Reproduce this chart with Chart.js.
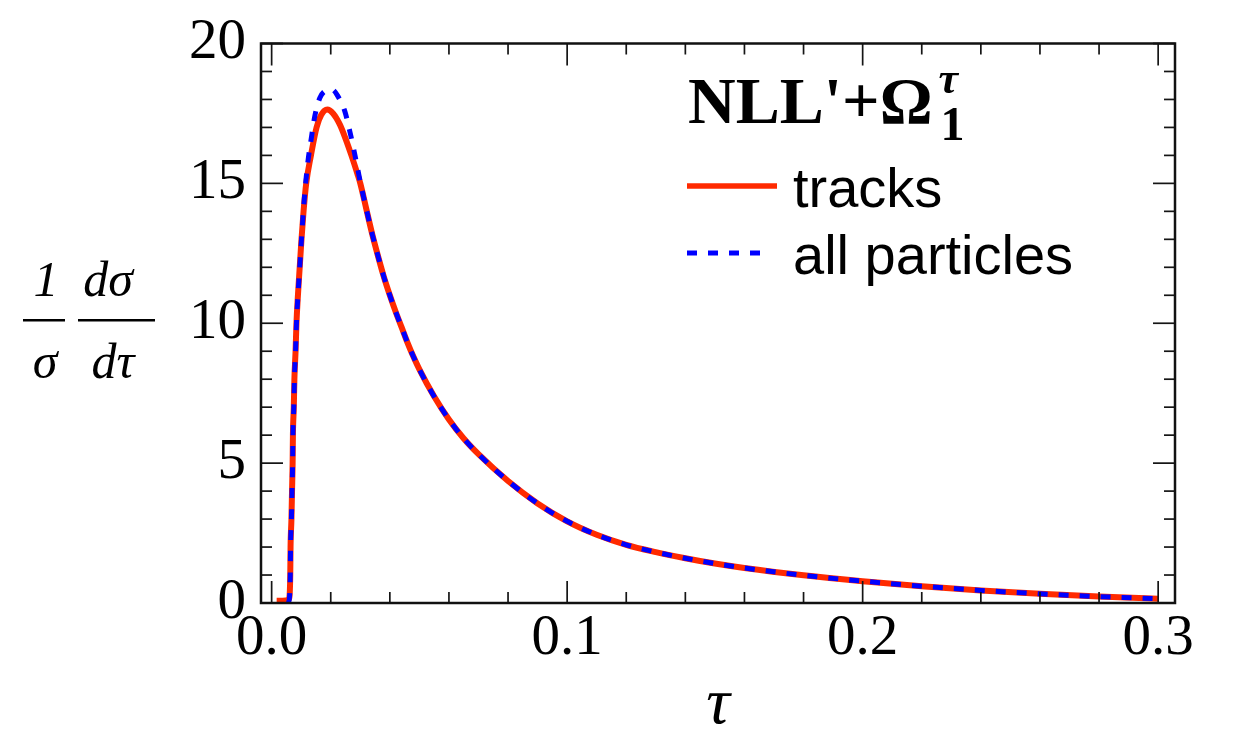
<!DOCTYPE html>
<html>
<head>
<meta charset="utf-8">
<script src="https://cdn.jsdelivr.net/npm/chart.js@4.4.1/dist/chart.umd.min.js"></script>
<style>
html,body{margin:0;padding:0;background:#fff;}
#wrap{width:1238px;height:739px;position:relative;}
</style>
</head>
<body>
<div id="wrap"><canvas id="c"></canvas></div>
<script>
// ---- data ----
const tauTracks = [0.0017,0.0037,0.0058,0.0061,0.0063,0.0064,0.0067,0.0069,0.0071,0.0072,0.0075,0.0077,0.0081,0.0084,0.0089,0.0095,0.0101,0.0108,0.0117,0.0133,0.0152,0.0168,0.0188,0.0208,0.0231,0.0250,0.0270,0.0290,0.0300,0.0320,0.0340,0.0360,0.0380,0.0400,0.0420,0.0440,0.0460,0.0480,0.0500,0.0550,0.0600,0.0650,0.0700,0.0800,0.0900,0.1000,0.1100,0.1200,0.1300,0.1400,0.1500,0.1600,0.1800,0.2000,0.2200,0.2400,0.2600,0.2800,0.3000];
const valTracks = [0.08,0.08,0.12,0.3,1.0,2.0,3.0,4.0,5.0,6.0,7.0,8.0,9.0,10.0,11.0,12.0,13.0,14.0,15.0,16.0,17.0,17.45,17.64,17.5,17.1,16.6,16.0,15.35,15.0,14.1,13.2,12.4,11.65,11.0,10.4,9.85,9.3,8.8,8.35,7.38,6.56,5.88,5.32,4.36,3.56,2.92,2.44,2.08,1.82,1.60,1.41,1.25,0.99,0.78,0.60,0.45,0.33,0.23,0.15];

const tauAll = [0.0057,0.0061,0.0063,0.0064,0.0067,0.0069,0.0071,0.0072,0.0075,0.0077,0.0081,0.0084,0.0089,0.0095,0.0101,0.0108,0.0115,0.0123,0.0134,0.0146,0.0163,0.0185,0.0205,0.0225,0.0247,0.0268,0.0284,0.0300,0.0320,0.0340,0.0360,0.0380,0.0400,0.0420,0.0440,0.0460,0.0480,0.0500,0.0550,0.0600,0.0650,0.0700,0.0800,0.0900,0.1000,0.1100,0.1200,0.1300,0.1400,0.1500,0.1600,0.1800,0.2000,0.2200,0.2400,0.2600,0.2800,0.3000];
const valAll = [0.0,0.3,1.0,2.0,3.0,4.0,5.0,6.0,7.0,8.0,9.0,10.0,11.0,12.0,13.0,14.1,15.0,15.8,16.6,17.4,18.05,18.32,18.35,18.1,17.6,16.7,15.9,15.05,14.1,13.2,12.4,11.65,11.0,10.4,9.85,9.3,8.8,8.35,7.38,6.56,5.88,5.32,4.36,3.56,2.92,2.44,2.08,1.82,1.60,1.41,1.25,0.99,0.78,0.60,0.45,0.33,0.23,0.15];

const seriesLabels = ['tracks', 'all particles'];
const xTickValues = [0, 0.1, 0.2, 0.3];
const xTickLabels = ['0.0', '0.1', '0.2', '0.3'];
const yTickValues = [0, 5, 10, 15, 20];
const yTickLabels = ['0', '5', '10', '15', '20'];
const xMinorStep = 0.02;
const yMinorStep = 1;
const xAxisTitle = 'τ';
const titleMain = "NLL'+Ω";
const titleSub = '1';
const titleSup = 'τ';

// ---- styling ----
const RED = '#ff2a00';
const BLUE = '#0000ff';
const BLUE_DASH = [10, 11];

const framePlugin = {
  id: 'frameTicks',
  afterDatasetsDraw(chart) {
    const {ctx, chartArea: a, scales: {x, y}} = chart;
    ctx.save();
    ctx.strokeStyle = '#151515';
    ctx.lineWidth = 1.7;
    const seg = (x1, y1, x2, y2) => { ctx.beginPath(); ctx.moveTo(x1, y1); ctx.lineTo(x2, y2); ctx.stroke(); };
    const xMax = xTickValues[xTickValues.length - 1];
    for (let i = 0; i * xMinorStep <= xMax + 1e-9; i++) {
      const v = i * xMinorStep;
      const major = xTickValues.some(t => Math.abs(t - v) < 1e-9);
      const len = major ? 22 : 11;
      const px = x.getPixelForValue(v);
      seg(px, a.bottom, px, a.bottom - len);
      seg(px, a.top, px, a.top + len);
    }
    const yMax = yTickValues[yTickValues.length - 1];
    for (let j = 0; j * yMinorStep <= yMax + 1e-9; j++) {
      const v = j * yMinorStep;
      const major = yTickValues.some(t => Math.abs(t - v) < 1e-9);
      const len = major ? 22 : 11;
      const py = y.getPixelForValue(v);
      seg(a.left, py, a.left + len, py);
      seg(a.right, py, a.right - len, py);
    }
    ctx.lineWidth = 2.5;
    ctx.strokeStyle = '#111';
    ctx.strokeRect(a.left, a.top, a.right - a.left, a.bottom - a.top);
    ctx.restore();
  },
  afterDraw(chart) {
    const ctx = chart.ctx;
    ctx.save();
    ctx.fillStyle = '#000';
    // y-axis label: (1/σ)(dσ/dτ)
    ctx.font = 'italic 50px "Liberation Serif"';
    ctx.textAlign = 'center';
    ctx.textBaseline = 'alphabetic';
    ctx.fillText('1', 46, 296);
    ctx.fillText('σ', 45, 378);
    ctx.fillText('dσ', 108, 296);
    ctx.fillText('dτ', 113, 378);
    ctx.fillRect(23, 319, 42, 2.5);
    ctx.fillRect(78, 319, 77, 2.5);

    // title NLL'+Ω_1^τ
    ctx.textAlign = 'left';
    ctx.font = 'bold 66px "Liberation Serif"';
    ctx.fillText(titleMain, 688, 123);
    const w = ctx.measureText(titleMain).width;
    ctx.font = 'bold 48px "Liberation Serif"';
    ctx.fillText(titleSub, 688 + w + 8, 140);
    ctx.font = 'italic bold 44px "Liberation Serif"';
    ctx.fillText(titleSup, 688 + w + 6, 93);

    // legend
    const ds = chart.data.datasets;
    const rows = [{y: 186, x2: 777}, {y: 253, x2: 763}];
    ds.forEach((d, i) => {
      ctx.beginPath();
      ctx.strokeStyle = d.borderColor;
      ctx.lineWidth = i === 0 ? 5.5 : 5;
      ctx.setLineDash(d.borderDash || []);
      ctx.moveTo(687, rows[i].y);
      ctx.lineTo(rows[i].x2, rows[i].y);
      ctx.stroke();
      ctx.setLineDash([]);
      ctx.font = '56px "Liberation Sans"';
      ctx.fillStyle = '#000';
      ctx.fillText(d.label, 793, rows[i].y + 21);
    });
    ctx.restore();
  }
};

const toPoints = (xs, ys) => xs.map((t, i) => ({x: t, y: ys[i]}));

new Chart(document.getElementById('c'), {
  type: 'line',
  data: {
    datasets: [
      {
        label: seriesLabels[0],
        data: toPoints(tauTracks, valTracks),
        borderColor: RED,
        borderWidth: 6,
        pointRadius: 0,
        cubicInterpolationMode: 'monotone',
        borderJoinStyle: 'round',
        order: 2
      },
      {
        label: seriesLabels[1],
        data: toPoints(tauAll, valAll),
        borderColor: BLUE,
        borderWidth: 5,
        borderDash: BLUE_DASH,
        pointRadius: 0,
        cubicInterpolationMode: 'monotone',
        order: 1
      }
    ]
  },
  options: {
    responsive: true,
    maintainAspectRatio: false,
    animation: false,
    layout: {padding: {top: 37, right: 63, bottom: 0, left: 0}},
    plugins: {legend: {display: false}, tooltip: {enabled: false}},
    scales: {
      x: {
        type: 'linear',
        min: -0.0036,
        max: 0.3057,
        grid: {display: false, drawTicks: false},
        border: {display: false},
        afterBuildTicks: s => { s.ticks = xTickValues.map(v => ({value: v})); },
        afterFit: s => { s.height = 136; },
        ticks: {
          autoSkip: false,
          maxRotation: 0,
          padding: 8,
          color: '#000',
          font: {family: '"Liberation Serif"', size: 57, lineHeight: 1},
          callback: (v, i) => xTickLabels[i]
        },
        title: {
          display: true,
          text: xAxisTitle,
          color: '#000',
          font: {family: '"Liberation Serif"', style: 'italic', size: 66, lineHeight: 1},
          padding: {top: 0, bottom: 0}
        }
      },
      y: {
        type: 'linear',
        min: 0,
        max: 20,
        grid: {display: false, drawTicks: false},
        border: {display: false},
        afterBuildTicks: s => { s.ticks = yTickValues.map(v => ({value: v})); },
        afterFit: s => { s.width = 261; },
        ticks: {
          autoSkip: false,
          padding: 15,
          color: '#000',
          font: {family: '"Liberation Serif"', size: 57, lineHeight: 1},
          callback: (v, i) => yTickLabels[i]
        }
      }
    }
  },
  plugins: [framePlugin]
});
</script>
</body>
</html>
